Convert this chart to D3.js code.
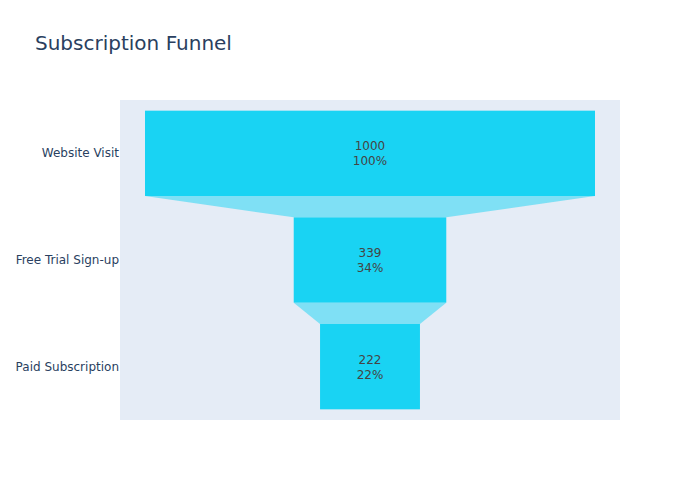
<!DOCTYPE html>
<html>
<head>
<meta charset="utf-8">
<script src="https://cdn.jsdelivr.net/npm/d3@7"></script>
<style>
  body { margin: 0; background: #fff; }
  text { font-family: "DejaVu Sans", Verdana, sans-serif; }
</style>
</head>
<body>
<div id="chart"></div>
<script>
const stages = ["Website Visit", "Free Trial Sign-up", "Paid Subscription"];
const counts = [1000, 339, 222];

const W = 700, H = 500;
const plotL = 120, plotR = 620, plotT = 100, plotB = 420;

const svg = d3.select("#chart").append("svg")
    .attr("width", W)
    .attr("height", H);

svg.append("rect")
    .attr("x", plotL).attr("y", plotT)
    .attr("width", plotR - plotL).attr("height", plotB - plotT)
    .attr("fill", "#e5ecf6");

// funnel is centered, plotly pads the range a bit
const maxV = d3.max(counts);
const x = d3.scaleLinear()
    .domain([-maxV / 0.9 / 2, maxV / 0.9 / 2])
    .range([plotL, plotR]);

const y = d3.scaleBand()
    .domain(stages)
    .range([plotT, plotB])
    .paddingInner(0.2)
    .paddingOuter(0.1);

// connectors between the bars
for (let i = 0; i < counts.length - 1; i++) {
    const y0 = y(stages[i]) + y.bandwidth();
    const y1 = y(stages[i + 1]);
    const a = counts[i] / 2, b = counts[i + 1] / 2;
    svg.append("path")
        .attr("d", `M${x(-a)},${y0}L${x(a)},${y0}L${x(b)},${y1}L${x(-b)},${y1}Z`)
        .attr("fill", "rgba(25,211,243,0.5)");
}

svg.selectAll(".bar")
    .data(counts)
    .enter()
    .append("rect")
    .attr("class", "bar")
    .attr("x", d => x(-d / 2))
    .attr("y", (d, i) => y(stages[i]))
    .attr("width", d => x(d / 2) - x(-d / 2))
    .attr("height", y.bandwidth())
    .attr("fill", "#19d3f3");

// value line and percent line inside each bar
svg.selectAll(".val")
    .data(counts)
    .enter()
    .append("text")
    .attr("class", "val")
    .attr("text-anchor", "middle")
    .attr("fill", "#444")
    .style("font-size", "12px")
    .attr("x", x(0))
    .attr("y", (d, i) => y(stages[i]) + y.bandwidth() / 2 - 3)
    .text(d => d);

svg.selectAll(".pct")
    .data(counts)
    .enter()
    .append("text")
    .attr("class", "pct")
    .attr("text-anchor", "middle")
    .attr("fill", "#444")
    .style("font-size", "12px")
    .attr("x", x(0))
    .attr("y", (d, i) => y(stages[i]) + y.bandwidth() / 2 + 12)
    .text(d => Math.round(d / counts[0] * 100) + "%");

// y axis labels
svg.append("g")
    .attr("transform", `translate(${plotL},0)`)
    .call(d3.axisLeft(y).tickSize(0).tickPadding(1))
    .call(g => g.select(".domain").remove())
    .selectAll("text")
    .attr("fill", "#2a3f5f")
    .style("font-size", "12px")
    .style("font-family", "'DejaVu Sans', Verdana, sans-serif");

svg.append("text")
    .attr("x", 35)
    .attr("y", 50)
    .attr("fill", "#2a3f5f")
    .style("font-size", "20px")
    .text("Subscription Funnel");
</script>
</body>
</html>
